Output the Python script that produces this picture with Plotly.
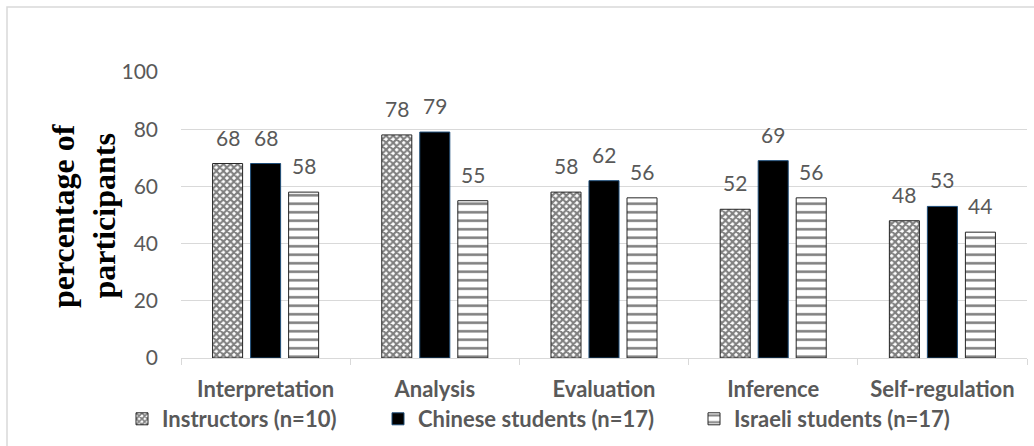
import plotly.graph_objects as go

# Critical-thinking skills by participant group
skills = ["Interpretation", "Analysis", "Evaluation", "Inference", "Self-regulation"]
instructors = [68, 78, 58, 52, 48]
chinese = [68, 79, 62, 69, 53]
israeli = [58, 55, 56, 56, 44]
series_names = ["Instructors (n=10)", "Chinese students (n=17)", "Israeli students (n=17)"]
y_ticks = [0, 20, 40, 60, 80, 100]

GRAY = "#595959"
GRID = "#D9D9D9"
FONT = "Lato"

# plot area in pixels
W, H = 1034, 446
L, R, T, B = 181, 7, 72, 88
PW, PH = W - L - R, H - T - B

BARGAP = 0.326
BARGROUPGAP = 0.21
slot = (1 - BARGAP) / 3  # width of one bar slot in category units


def px_x(p):
    return (p - L) / PW


def px_y(p):
    return (H - B - p) / PH


fig = go.Figure()

fig.add_trace(go.Bar(
    x=skills, y=instructors, name=series_names[0],
    marker=dict(color="white",
                line=dict(color="#262626", width=1),
                pattern=dict(shape="x", size=5, solidity=0.65,
                             fgcolor="black", bgcolor="white", fillmode="overlay")),
    legend="legend", showlegend=True,
))
fig.add_trace(go.Bar(
    x=skills, y=chinese, name=series_names[1],
    marker=dict(color="black", line=dict(color="#1F4E79", width=1)),
    legend="legend2", showlegend=True,
))
fig.add_trace(go.Bar(
    x=skills, y=israeli, name=series_names[2],
    marker=dict(color="white",
                line=dict(color="#262626", width=1),
                pattern=dict(shape="-", size=8.5, solidity=0.3,
                             fgcolor="black", bgcolor="white", fillmode="overlay")),
    legend="legend3", showlegend=True,
))

# value labels above each bar
annotations = []
for j, vals in enumerate([instructors, chinese, israeli]):
    for i, v in enumerate(vals):
        annotations.append(dict(
            x=i + (j - 1) * slot, y=v, xref="x", yref="y",
            text=str(v), showarrow=False, yanchor="bottom", yshift=12,
            font=dict(family=FONT, size=21, color=GRAY),
        ))

# two-line rotated axis title
for txt, xp in [("percentage of", 63), ("participants", 103.5)]:
    annotations.append(dict(
        x=px_x(xp), y=px_y(216), xref="paper", yref="paper",
        text=txt, showarrow=False, textangle=-90,
        xanchor="center", yanchor="middle",
        font=dict(family="Liberation Serif", size=32, color="black", weight="bold"),
    ))

legend_font = dict(family=FONT, size=22, color=GRAY, weight="bold")
legend_common = dict(orientation="h", yanchor="middle", y=px_y(419), xanchor="left",
                     font=legend_font, bgcolor="rgba(0,0,0,0)", itemwidth=30)

fig.update_layout(
    width=W, height=H,
    margin=dict(l=L, r=R, t=T, b=B, autoexpand=False),
    paper_bgcolor="white", plot_bgcolor="white",
    showlegend=True,
    barmode="group", bargap=BARGAP, bargroupgap=BARGROUPGAP,
    font=dict(family=FONT, color=GRAY),
    annotations=annotations,
    legend=dict(x=px_x(122), **legend_common),
    legend2=dict(x=px_x(378), **legend_common),
    legend3=dict(x=px_x(694), **legend_common),
    shapes=[dict(type="rect", xref="paper", yref="paper",
                 x0=px_x(7), x1=px_x(1040), y0=px_y(460), y1=px_y(7),
                 line=dict(color=GRID, width=1.5), layer="below")],
)

fig.update_xaxes(
    automargin=False,
    showline=True, linecolor=GRID, linewidth=1,
    ticks="outside", tickson="boundaries", ticklen=6, tickcolor=GRID,
    ticklabelstandoff=12,
    tickfont=dict(family=FONT, size=22, color=GRAY, weight="bold"),
    showgrid=False,
)
fig.update_yaxes(
    automargin=False,
    range=[0, 100], tickvals=y_ticks,
    showgrid=True, gridcolor=GRID, gridwidth=1, zeroline=False,
    showline=False, ticks="", ticklabelstandoff=22,
    tickfont=dict(family=FONT, size=21, color=GRAY),
)

fig.write_html("out.html")
